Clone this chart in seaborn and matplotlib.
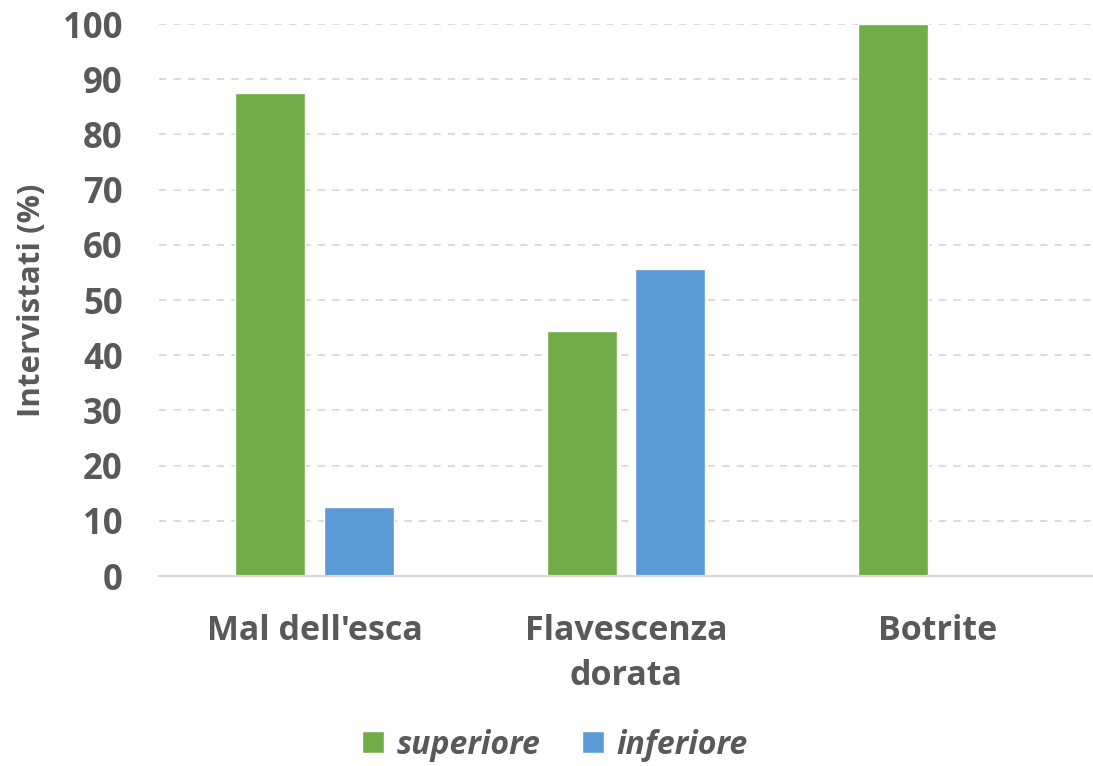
import matplotlib
matplotlib.use("Agg")
import matplotlib.pyplot as plt
import seaborn as sns
import pandas as pd

categories = ["Mal dell'esca", "Flavescenza\ndorata", "Botrite"]
superiore = [87.5, 44.4, 100.0]
inferiore = [12.5, 55.6, 0.0]
series_names = ["superiore", "inferiore"]
yticks = [0, 10, 20, 30, 40, 50, 60, 70, 80, 90, 100]

df = pd.DataFrame({
    "cat": categories * 2,
    "serie": [series_names[0]] * 3 + [series_names[1]] * 3,
    "val": superiore + inferiore,
})

sns.set_theme(style="white")
plt.rcParams['font.family'] = ['Open Sans', 'DejaVu Sans']
TXT = "#595959"

fig = plt.figure(figsize=(10.93, 7.66), dpi=100)
ax = fig.add_axes([159/1093, 1 - 576/766, 1 - 159/1093, (576 - 24)/766])

sns.barplot(data=df, x="cat", y="val", hue="serie", order=categories,
            hue_order=series_names, palette=["#70AD47", "#5B9BD5"],
            width=0.57, gap=0.21, ax=ax, legend=True, saturation=1)

ax.set_ylim(0, 100)
ax.set_xlim(-0.5, 2.5)
ax.set_yticks(yticks)
ax.set_yticklabels([str(t) for t in yticks], fontsize=25, fontweight="bold", color=TXT)
ax.set_xticks(range(len(categories)))
ax.set_xticklabels(categories, fontsize=24.5, fontweight="bold", color=TXT, linespacing=1.45)
ax.tick_params(axis="both", length=0)
ax.tick_params(axis="x", pad=27)
ax.tick_params(axis="y", pad=26)
ax.set_xlabel("")
ax.set_ylabel("Intervistati (%)", fontsize=22.5, fontweight="bold", color=TXT, labelpad=12)

ax.yaxis.grid(True, linestyle=(0, (4, 4)), color="#D9D9D9", linewidth=1.3)
ax.set_axisbelow(True)
for s in ["top", "right", "left"]:
    ax.spines[s].set_visible(False)
ax.spines["bottom"].set_color("#D9D9D9")
ax.spines["bottom"].set_linewidth(1.5)

handles, labels = ax.get_legend_handles_labels()
ax.get_legend().remove()
leg = fig.legend(handles, labels, loc="center", bbox_to_anchor=(0.508, 1 - 745/766),
                 ncol=2, frameon=False, handlelength=0.68, handleheight=0.68,
                 handletextpad=0.4, columnspacing=1.3,
                 prop={"size": 23, "weight": "bold", "style": "italic"})
for t in leg.get_texts():
    t.set_color(TXT)

fig.savefig("out.png", dpi=100)
